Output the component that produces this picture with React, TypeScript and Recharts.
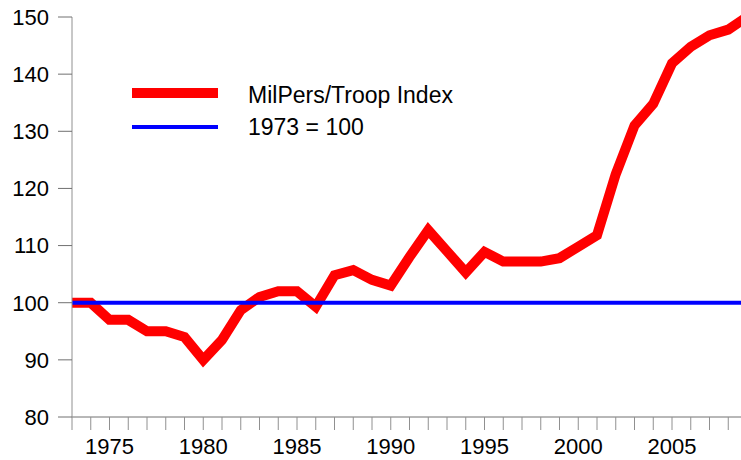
import React from "react";
import { LineChart, Line, XAxis, YAxis } from "recharts";

const years = [
  1973, 1974, 1975, 1976, 1977, 1978, 1979, 1980, 1981, 1982, 1983, 1984,
  1985, 1986, 1987, 1988, 1989, 1990, 1991, 1992, 1993, 1994, 1995, 1996,
  1997, 1998, 1999, 2000, 2001, 2002, 2003, 2004, 2005, 2006, 2007, 2008, 2009,
];
const milPersIndex = [
  100, 100, 97, 97, 95, 95, 94, 90, 93.5, 98.7, 101, 102,
  102, 99.3, 104.8, 105.7, 104, 103, 108, 112.7, 109, 105.3, 108.9, 107.2,
  107.2, 107.2, 107.8, 109.8, 111.8, 122.5, 131, 134.8, 141.9, 144.8, 146.8, 147.8, 150,
];
const baseYears = [1973, 2009];
const baseValues = [100, 100];
const yTicks = [80, 90, 100, 110, 120, 130, 140, 150];
const labelYears = [1975, 1980, 1985, 1990, 1995, 2000, 2005];
const seriesNames = ["MilPers/Troop Index", "1973 = 100"];

const data = years.map((y, i) => ({ year: y, index: milPersIndex[i] }));
const baseData = baseYears.map((y, i) => ({ year: y, base: baseValues[i] }));

const FONT = "'Liberation Sans', Arial, sans-serif";

const XTick = (props: any) => {
  const { x, y, payload } = props;
  if (!labelYears.includes(payload.value)) return null;
  return (
    <text x={x} y={y} dy="0.71em" textAnchor="middle" fontSize={22} fontFamily={FONT} fill="#000">
      {payload.value}
    </text>
  );
};

const YTick = (props: any) => {
  const { x, y, payload } = props;
  return (
    <text x={x} y={y} dy="0.355em" textAnchor="end" fontSize={22} fontFamily={FONT} fill="#000">
      {payload.value}
    </text>
  );
};

const LegendBox = () => (
  <svg width={360} height={64} style={{ display: "block", position: "absolute", left: 128, top: 78 }}>
    <line x1={4} x2={90} y1={15} y2={15} stroke="#ff0000" strokeWidth={10} />
    <line x1={4} x2={90} y1={49} y2={49} stroke="#0000ff" strokeWidth={4} />
    <text x={120} y={25} fontSize={23} fontFamily={FONT} fill="#000">{seriesNames[0]}</text>
    <text x={120} y={57} fontSize={23} fontFamily={FONT} fill="#000">{seriesNames[1]}</text>
  </svg>
);

export default function App() {
  return (
    <div style={{ position: "absolute", left: 0, top: 0, width: 741, height: 460, overflow: "hidden", background: "#fff" }}>
      <LineChart
        width={760}
        height={460}
        data={data}
        margin={{ top: 17, right: 13, bottom: 0, left: 0 }}
      >
        <XAxis
          dataKey="year"
          type="number"
          domain={[1973, 2009]}
          ticks={years}
          interval={0}
          tickSize={13}
          tickMargin={8}
          height={43}
          stroke="#707070"
          tickLine={{ stroke: "#909090" }}
          tick={<XTick />}
          allowDuplicatedCategory={false}
        />
        <YAxis
          type="number"
          domain={[80, 150]}
          ticks={yTicks}
          interval={0}
          width={72}
          tickSize={14}
          tickMargin={9}
          stroke="#909090"
          tickLine={{ stroke: "#707070" }}
          tick={<YTick />}
        />
        <Line
          dataKey="index"
          name={seriesNames[0]}
          type="linear"
          stroke="#ff0000"
          strokeWidth={10}
          dot={false}
          activeDot={false}
          isAnimationActive={false}
        />
        <Line
          data={baseData}
          dataKey="base"
          name={seriesNames[1]}
          type="linear"
          stroke="#0000ff"
          strokeWidth={4}
          dot={false}
          activeDot={false}
          isAnimationActive={false}
        />
      </LineChart>
      <LegendBox />
    </div>
  );
}
